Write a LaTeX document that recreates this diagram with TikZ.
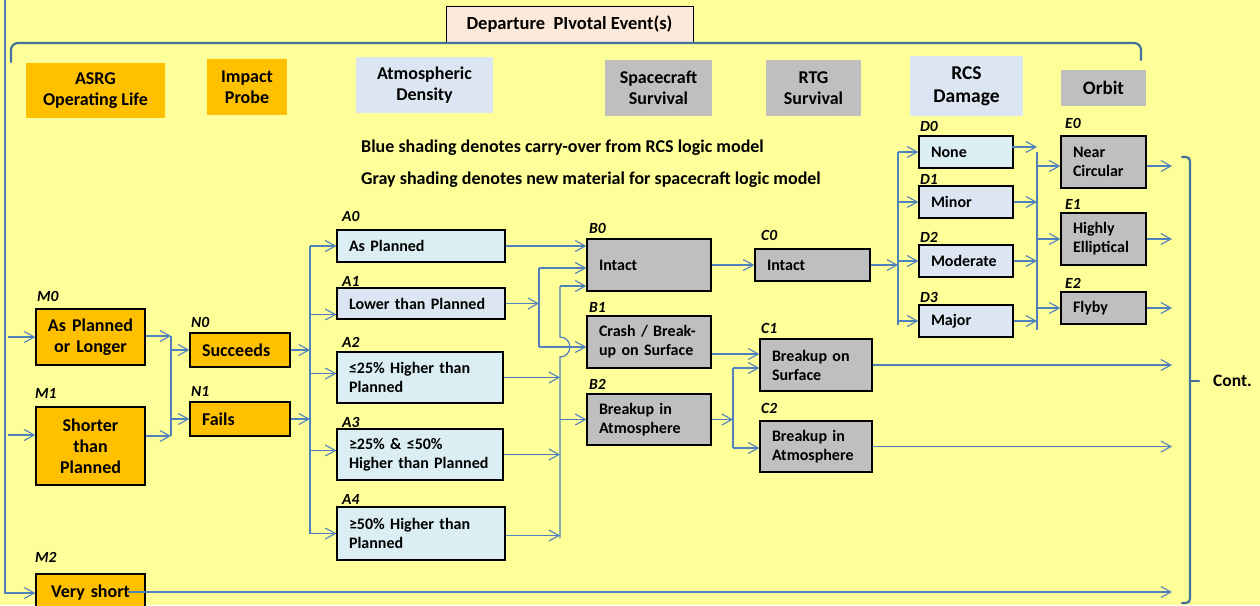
\documentclass[tikz,border=0pt]{standalone}
\usepackage{fontspec}
\setmainfont{Carlito}
\usetikzlibrary{arrows.meta,calc}
\definecolor{bg}{HTML}{FFFF99}
\definecolor{orng}{HTML}{FFC000}
\definecolor{gry}{HTML}{BFBFBF}
\definecolor{lcy}{HTML}{DAEEF3}
\definecolor{lbl}{HTML}{DCE6F2}
\definecolor{peach}{HTML}{FDE9D9}
\definecolor{wirec}{HTML}{4F81BD}
\definecolor{brc}{HTML}{41719C}
\tikzset{
  box/.style={draw=black, line width=1.3pt, inner xsep=12pt, inner ysep=0pt, align=left,
    font=\fontsize{16}{19}\selectfont\bfseries},
  bigbox/.style={box, font=\fontsize{18}{21}\selectfont\bfseries},
  cbox/.style={bigbox, align=center, inner xsep=2pt},
  hdr/.style={inner sep=0pt, align=center, font=\fontsize{18}{21}\selectfont\bfseries},
  lab/.style={anchor=base west, inner sep=0pt, font=\fontsize{15.5}{15}\selectfont\bfseries\itshape},
  note/.style={anchor=west, inner sep=0pt, font=\fontsize{18}{20}\selectfont\bfseries},
  wire/.style={draw=wirec, line width=1.2pt},
  ar/.style={wire, -{Straight Barb[length=10pt,width=11pt,line width=1.1pt]}},
  brace/.style={draw=brc, line width=2.2pt, line cap=round},
}
\begin{document}
\begin{tikzpicture}[x=1pt,y=-1pt]
\useasboundingbox (0,0) rectangle (1260,605);
\clip (0,0) rectangle (1260,605);
\fill[bg] (0,0) rectangle (1260,605);

% title and top brace
\node[draw=black, line width=1pt, fill=peach, minimum width=247pt, minimum height=36pt,
  font=\fontsize{18.5}{21}\selectfont\bfseries] (title) at (569.5,24) {Departure\ \ PIvotal Event(s)};
\draw[brace] (11,62) -- (11,50) to[out=90,in=180] (18,43) -- (1134,43) to[out=0,in=90] (1141,50) -- (1141,60);

% column headers
\node[hdr, fill=orng, minimum width=139pt, minimum height=55pt] (hM) at (95.5,90.5) {ASRG\\Operating Life};
\node[hdr, fill=orng, minimum width=80pt, minimum height=56pt] (hN) at (247,87) {Impact\\Probe};
\node[hdr, fill=lbl, minimum width=137pt, minimum height=56pt] (hA) at (424.5,85) {Atmospheric\\Density};
\node[hdr, fill=gry, minimum width=107pt, minimum height=56pt] (hB) at (658.5,88) {Spacecraft\\Survival};
\node[hdr, fill=gry, minimum width=95pt, minimum height=56pt] (hC) at (813.5,88) {RTG\\Survival};
\node[hdr, fill=lbl, minimum width=113pt, minimum height=60pt, font=\fontsize{19.5}{23}\selectfont\bfseries] (hD) at (966.5,86) {RCS\\Damage};
\node[hdr, fill=gry, minimum width=85pt, minimum height=36pt, font=\fontsize{19}{23}\selectfont\bfseries] (hE) at (1103.5,88) {Orbit};

% notes
\node[note] (note1) at (361,148) {Blue shading denotes carry-over from RCS logic model};
\node[note] (note2) at (361,180) {Gray shading denotes new material for spacecraft logic model};

% M column
\node[cbox, fill=orng, text width=105pt, minimum height=56pt] (M0) at (90.5,337) {As Planned\\or Longer};
\node[cbox, fill=orng, text width=105pt, minimum height=78pt] (M1) at (90.5,446) {Shorter\\than\\Planned};
\node[cbox, fill=orng, text width=105pt, minimum height=38pt] (M2) at (90.5,593) {Very short};
\node[lab] (lM0) at (37,301) {M0};
\node[lab] (lM1) at (35,398) {M1};
\node[lab] (lM2) at (35,562) {M2};

% N column
\node[bigbox, fill=orng, text width=76pt, minimum height=34pt] (N0) at (240,350) {Succeeds};
\node[bigbox, fill=orng, text width=76pt, minimum height=34pt] (N1) at (240,419) {Fails};
\node[lab] (lN0) at (191,327) {N0};
\node[lab] (lN1) at (191,396) {N1};

% A column
\node[box, fill=lcy, text width=144pt, minimum height=32pt] (A0) at (421,246) {As Planned};
\node[box, fill=lbl, text width=144pt, minimum height=31pt] (A1) at (421,303.5) {Lower than Planned};
\node[box, fill=lcy, text width=142pt, minimum height=51pt] (A2) at (420,377.5) {≤25\% Higher than\\Planned};
\node[box, fill=lcy, text width=142pt, minimum height=51pt] (A3) at (420,454.5) {≥25\% \& ≤50\%\\Higher than~Planned};
\node[box, fill=lcy, text width=144pt, minimum height=53pt] (A4) at (421,533.5) {≥50\% Higher than\\Planned};
\node[lab] (lA0) at (342,221) {A0};
\node[lab] (lA1) at (342,286) {A1};
\node[lab] (lA2) at (342,347) {A2};
\node[lab] (lA3) at (342,427) {A3};
\node[lab] (lA4) at (342,504) {A4};

% B column
\node[box, fill=gry, text width=100pt, minimum height=52pt] (B0) at (649,265) {Intact};
\node[box, fill=gry, text width=100pt, minimum height=52pt] (B1) at (649,342) {Crash / Break-\\up on Surface};
\node[box, fill=gry, text width=100pt, minimum height=51pt] (B2) at (649,419.5) {Breakup in\\Atmosphere};
\node[lab] (lB0) at (589,233) {B0};
\node[lab] (lB1) at (589,312) {B1};
\node[lab] (lB2) at (589,389) {B2};

% C column
\node[box, fill=gry, text width=91pt, minimum height=32pt] (C0) at (812.5,265) {Intact};
\node[box, fill=gry, text width=88pt, minimum height=52pt] (C1) at (816,365) {Breakup on\\Surface};
\node[box, fill=gry, text width=88pt, minimum height=51pt] (C2) at (816,446.5) {Breakup in\\Atmosphere};
\node[lab] (lC0) at (761,240) {C0};
\node[lab] (lC1) at (761,333) {C1};
\node[lab] (lC2) at (761,413) {C2};

% D column
\node[box, fill=lcy, text width=70pt, minimum height=32pt] (D0) at (966,152) {None};
\node[box, fill=lbl, text width=70pt, minimum height=32pt] (D1) at (966,202) {Minor};
\node[box, fill=lbl, text width=70pt, minimum height=32pt] (D2) at (966,261) {Moderate};
\node[box, fill=lbl, text width=70pt, minimum height=32pt] (D3) at (966,321) {Major};
\node[lab] (lD0) at (920,131) {D0};
\node[lab] (lD1) at (920,184) {D1};
\node[lab] (lD2) at (920,242) {D2};
\node[lab] (lD3) at (920,302) {D3};

% E column
\node[box, fill=gry, text width=61pt, minimum height=52pt] (E0) at (1103.5,162) {Near\\Circular};
\node[box, fill=gry, text width=61pt, minimum height=52pt] (E1) at (1103.5,239) {Highly\\Elliptical};
\node[box, fill=gry, text width=61pt, minimum height=32pt] (E2) at (1103.5,308) {Flyby};
\node[lab] (lE0) at (1065,128) {E0};
\node[lab] (lE1) at (1065,209) {E1};
\node[lab] (lE2) at (1065,288) {E2};

% right brace
\draw[brace] (1182,157) -- (1186,157) to[out=0,in=90] (1190,161) -- (1190,599) to[out=-90,in=0] (1186,603) -- (1182,603);
\draw[brace] (1190,381) -- (1199,381);
\node[anchor=west, inner sep=0pt, font=\fontsize{17.5}{20}\selectfont\bfseries] (cont) at (1213,381) {Cont.};

% left entry line
\coordinate (ltop) at (5,0);
\draw[ar] (ltop) |- (M2.west);
\coordinate (l0) at (8,337);
\coordinate (l1) at (8,435);
\draw[ar] (l0) -- (l0 -| M0.west);
\draw[ar] (l1) -- (l1 -| M1.west);

% M -> N
\coordinate (mnT) at (171,336);
\coordinate (mnB) at (171,436);
\draw[wire] (mnT) -- (mnB);
\draw[ar] (M0.east |- mnT) -- (mnT);
\draw[ar] (M1.east |- mnB) -- (mnB);
\draw[ar] (mnT |- N0.west) -- (N0.west);
\draw[ar] (mnT |- N1.west) -- (N1.west);

% N -> A
\coordinate (naT) at (310,246);
\draw[wire] (naT) -- (naT |- A4.west);
\draw[ar] (N0.east) -- (N0.east -| naT);
\draw[ar] (N1.east) -- (N1.east -| naT);
\draw[ar] (naT |- A0.west) -- (A0.west);
\coordinate (a1in) at ([yshift=-11pt]A1.west);
\draw[ar] (naT |- a1in) -- (a1in);
\coordinate (a2in) at ([yshift=4pt]A2.west);
\draw[ar] (naT |- a2in) -- (a2in);
\coordinate (a3in) at ([yshift=4pt]A3.west);
\draw[ar] (naT |- a3in) -- (a3in);
\draw[ar] (naT |- A4.west) -- (A4.west);

% A -> B
\draw[ar] (A0.east) -- (A0.east -| B0.west);
\coordinate (ab1T) at (539,268);
\coordinate (ab1B) at (539,347);
\draw[wire] (ab1T) -- (ab1B);
\draw[ar] (A1.east) -- (A1.east -| ab1T);
\draw[ar] (ab1T) -- (ab1T -| B0.west);
\draw[ar] (ab1B) -- (ab1B -| B1.west);
\coordinate (ab2T) at (560,286);
\coordinate (ab2B) at (560,538);
\draw[wire] (ab2T) -- (560,337) arc[start angle=90, end angle=-90, radius=10pt] -- (ab2B);
\draw[ar] (ab2T) -- (ab2T -| B0.west);
\draw[ar] (A2.east) -- (A2.east -| ab2T);
\draw[ar] (A3.east) -- (A3.east -| ab2T);
\draw[ar] ([yshift=-2pt]A4.east) -- ([yshift=-2pt]A4.east -| ab2T);
\draw[ar] (ab2T |- B2.west) -- (B2.west);

% B -> C
\draw[ar] (B0.east) -- (C0.west);
\coordinate (b1o) at ([yshift=-12pt]B1.east);
\draw[ar] (b1o) -- (b1o -| C1.west);
\coordinate (bcT) at (733,368);
\coordinate (bcB) at (733,448);
\draw[wire] (bcT) -- (bcB);
\draw[ar] (B2.east) -- (B2.east -| bcT);
\draw[ar] (bcT) -- (bcT -| C1.west);
\draw[ar] (bcB) -- (bcB -| C2.west);

% C -> D
\coordinate (cdT) at (898,152);
\coordinate (cdB) at (898,325);
\draw[wire] (cdT) -- (cdB);
\draw[ar] (C0.east) -- (C0.east -| cdT);
\draw[ar] (cdT |- D0.west) -- (D0.west);
\draw[ar] (cdT |- D1.west) -- (D1.west);
\draw[ar] (cdT |- D2.west) -- (D2.west);
\draw[ar] (cdT |- D3.west) -- (D3.west);

% D -> E
\coordinate (deT) at (1037,152);
\coordinate (deB) at (1037,330);
\draw[wire] (deT) -- (deB);
\coordinate (d0o) at ([xshift=-2pt,yshift=5pt]D0.east);
\draw[ar] (d0o) -- (d0o -| deT);
\draw[ar] (D1.east) -- (D1.east -| deT);
\draw[ar] (D2.east) -- (D2.east -| deT);
\draw[ar] (D3.east) -- (D3.east -| deT);
\coordinate (e0in) at ([yshift=-4pt]E0.west);
\draw[ar] (deT |- e0in) -- (e0in);
\draw[ar] (deT |- E1.west) -- (E1.west);
\draw[ar] (deT |- E2.west) -- (E2.west);

% outputs to the right
\coordinate (rend) at (1172,0);
\coordinate (e0o) at ([yshift=-4pt]E0.east);
\draw[ar] (e0o) -- (e0o -| rend);
\draw[ar] (E1.east) -- (E1.east -| rend);
\draw[ar] (E2.east) -- (E2.east -| rend);
\draw[ar] (C1.east) -- (C1.east -| rend);
\draw[ar] (C2.east) -- (C2.east -| rend);
\coordinate (m2o) at ([xshift=-18pt,yshift=1pt]M2.east);
\draw[ar] (m2o) -- (m2o -| rend);
\end{tikzpicture}
\end{document}
